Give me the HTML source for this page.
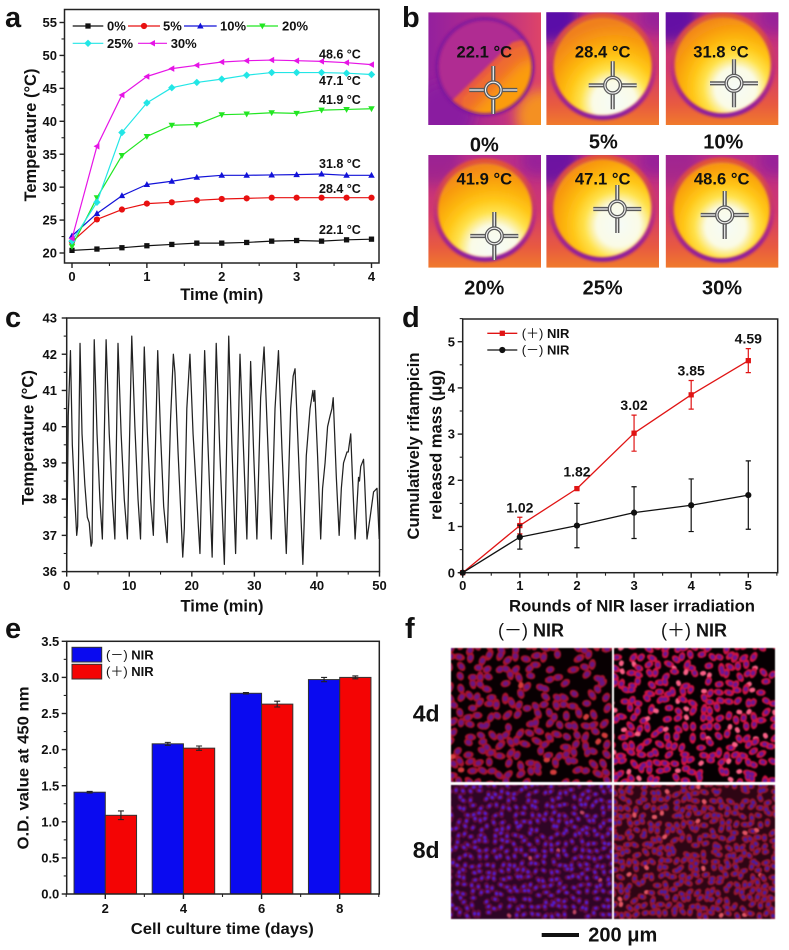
<!DOCTYPE html>
<html lang="en">
<head>
<meta charset="utf-8">
<title>Multi-panel figure</title>
<style>
html,body{margin:0;padding:0;background:#fff;}
#figure{position:relative;width:789px;height:950px;overflow:hidden;background:#fff;}
#figure svg{position:absolute;left:0;top:0;filter:blur(.35px);}
#figure canvas{position:absolute;filter:blur(.6px);}
text{font-family:"Liberation Sans","Noto Sans CJK SC",sans-serif;font-weight:bold;fill:#111;}
.thin{font-weight:normal;}
</style>
</head>
<body>
<div id="figure">
<svg id="root" width="789" height="950" viewBox="0 0 789 950" xmlns="http://www.w3.org/2000/svg">
  <defs id="defs"></defs>
  <g id="panel-a"></g>
  <g id="panel-b"></g>
  <g id="panel-c"></g>
  <g id="panel-d"></g>
  <g id="panel-e"></g>

  <text x="5" y="27" font-size="29">a</text>
  <text x="402" y="27" font-size="29">b</text>
  <text x="5" y="327" font-size="29">c</text>
  <text x="402" y="327" font-size="29">d</text>
  <text x="5" y="638" font-size="29">e</text>
  <text x="405" y="638" font-size="29">f</text>

  <!-- panel a static labels -->
  <text x="221.7" y="300" font-size="16.5" text-anchor="middle" textLength="83" lengthAdjust="spacingAndGlyphs">Time (min)</text>
  <text transform="translate(36,135) rotate(-90)" font-size="16.5" text-anchor="middle" textLength="133" lengthAdjust="spacingAndGlyphs">Temperature (°C)</text>
  <text x="319" y="58.3" font-size="12.5">48.6 °C</text>
  <text x="319" y="85" font-size="12.5">47.1 °C</text>
  <text x="319" y="104" font-size="12.5">41.9 °C</text>
  <text x="319" y="168" font-size="12.5">31.8 °C</text>
  <text x="319" y="193" font-size="12.5">28.4 °C</text>
  <text x="319" y="234" font-size="12.5">22.1 °C</text>

  <!-- panel b labels -->
  <text x="484.3" y="57.7" font-size="16.6" text-anchor="middle">22.1 °C</text>
  <text x="602.7" y="57.7" font-size="16.6" text-anchor="middle">28.4 °C</text>
  <text x="721" y="57.7" font-size="16.6" text-anchor="middle">31.8 °C</text>
  <text x="484.3" y="184.3" font-size="16.6" text-anchor="middle">41.9 °C</text>
  <text x="602.7" y="184.3" font-size="16.6" text-anchor="middle">47.1 °C</text>
  <text x="721.7" y="184.3" font-size="16.6" text-anchor="middle">48.6 °C</text>
  <text x="484.3" y="151.7" font-size="20" text-anchor="middle">0%</text>
  <text x="603.3" y="148.3" font-size="20" text-anchor="middle">5%</text>
  <text x="723.3" y="148.3" font-size="20" text-anchor="middle">10%</text>
  <text x="484.3" y="294.7" font-size="20" text-anchor="middle">20%</text>
  <text x="602.7" y="294.7" font-size="20" text-anchor="middle">25%</text>
  <text x="722" y="294.7" font-size="20" text-anchor="middle">30%</text>

  <!-- panel c labels -->
  <text x="222" y="611.6" font-size="16.5" text-anchor="middle" textLength="83" lengthAdjust="spacingAndGlyphs">Time (min)</text>
  <text transform="translate(33.5,437.5) rotate(-90)" font-size="16.5" text-anchor="middle" textLength="135" lengthAdjust="spacingAndGlyphs">Temperature (°C)</text>

  <!-- panel d labels -->
  <text x="632" y="611.6" font-size="16.5" text-anchor="middle" textLength="246" lengthAdjust="spacingAndGlyphs">Rounds of NIR laser irradiation</text>
  <text transform="translate(419,446) rotate(-90)" font-size="16.5" text-anchor="middle" textLength="187" lengthAdjust="spacingAndGlyphs">Cumulatively rifampicin</text>
  <text transform="translate(441.7,445) rotate(-90)" font-size="16.5" text-anchor="middle" textLength="150" lengthAdjust="spacingAndGlyphs">released mass (μg)</text>
  <text x="521.7" y="338" font-size="13"><tspan class="thin">(＋)</tspan> NIR</text>
  <text x="521.7" y="354.7" font-size="13"><tspan class="thin">(－)</tspan> NIR</text>

  <!-- panel e labels -->
  <text x="222.3" y="934" font-size="16" text-anchor="middle" textLength="183" lengthAdjust="spacingAndGlyphs">Cell culture time (days)</text>
  <text transform="translate(28.3,768) rotate(-90)" font-size="16" text-anchor="middle" textLength="163" lengthAdjust="spacingAndGlyphs">O.D. value at 450 nm</text>
  <text x="106" y="659.3" font-size="13"><tspan class="thin">(－)</tspan> NIR</text>
  <text x="106" y="676" font-size="13"><tspan class="thin">(＋)</tspan> NIR</text>

  <!-- panel f labels -->
  <text x="531" y="636.7" font-size="18" text-anchor="middle"><tspan class="thin">(－)</tspan> NIR</text>
  <text x="694" y="636.7" font-size="18" text-anchor="middle"><tspan class="thin">(＋)</tspan> NIR</text>
  <text x="412.7" y="721.7" font-size="23">4d</text>
  <text x="412.7" y="858" font-size="23">8d</text>
  <rect x="541.7" y="933" width="37.3" height="4" fill="#111"></rect>
  <text x="588.3" y="941.7" font-size="20">200 μm</text>
</svg>
<canvas id="cells-4d-minus" width="161" height="134" style="left:450.5px;top:648.3px"></canvas>
<canvas id="cells-4d-plus" width="161" height="134" style="left:613.7px;top:648.3px"></canvas>
<canvas id="cells-8d-minus" width="161" height="134" style="left:450.5px;top:784.5px"></canvas>
<canvas id="cells-8d-plus" width="161" height="134" style="left:613.7px;top:784.5px"></canvas>
</div>

<script>
/* ---------- panel a data ---------- */
const heatTimes = [0,0.333,0.667,1,1.333,1.667,2,2.333,2.667,3,3.333,3.667,4];
const series0  = [20.4,20.6,20.8,21.1,21.3,21.5,21.5,21.6,21.8,21.9,21.8,22.0,22.1];
const series5  = [21.7,25.1,26.6,27.5,27.7,28.0,28.2,28.3,28.4,28.4,28.4,28.4,28.4];
const series10 = [22.6,26.0,28.7,30.4,30.9,31.5,31.8,31.8,31.85,31.9,32.0,31.8,31.8];
const series20 = [21.0,28.4,34.8,37.7,39.4,39.5,41.0,41.1,41.3,41.2,41.7,41.8,41.9];
const series25 = [21.8,27.7,38.3,42.8,45.1,45.9,46.4,47.0,47.4,47.4,47.4,47.3,47.1];
const series30 = [22.2,36.2,44.0,46.8,48.0,48.5,49.0,49.2,49.3,49.2,49.1,48.9,48.6];
const seriesNames = ['0%','5%','10%','20%','25%','30%'];
const aXTicks = [0,1,2,3,4];
const aYTicks = [20,25,30,35,40,45,50,55];

/* ---------- panel c data ---------- */
const cycleTimes = [0,0.08,0.25,0.6,0.9,1.3,1.6,1.75,1.85,2.13,2.45,2.9,3.3,3.6,3.9,4.05,4.4,4.85,5.3,5.7,6.3,6.8,7.3,7.7,8.2,8.7,9.2,9.7,10.4,10.9,11.4,11.8,12.4,12.9,13.4,13.85,14.55,15.0,15.5,16.05,16.6,17.05,17.3,17.8,18.3,18.55,18.8,19.2,19.7,20.2,20.8,21.3,22.05,22.6,23.25,23.9,24.5,25.2,25.9,26.4,27.0,27.7,28.3,28.8,29.4,29.9,30.4,31.0,31.55,32.2,32.7,33.3,33.85,34.4,35.1,35.8,36.2,36.5,37.1,37.75,38.3,38.9,39.35,39.5,39.65,40.1,40.6,40.9,41.3,41.7,42.1,42.4,42.6,43.1,43.55,43.9,44.25,44.8,45.0,45.4,45.7,46.1,46.65,46.8,47.0,47.45,47.6,48.0,48.5,49.05,49.6,49.95];
const cycleTemps = [36.0,37.5,40.3,42.1,39.5,38.0,37.0,37.25,38.5,42.3,39.8,38.4,37.5,37.35,36.7,36.8,42.4,39.8,38.0,36.9,42.4,39.8,38.0,36.9,42.3,39.8,38.0,36.9,42.5,40.0,38.0,36.9,42.2,39.8,38.0,37.0,42.1,39.8,37.8,36.8,40.2,42.0,41.5,39.3,37.4,36.4,37.2,40.5,42.0,39.8,38.0,36.5,42.1,39.4,36.4,42.3,39.2,36.2,42.5,39.5,36.5,42.0,39.2,36.9,41.8,39.2,36.9,40.8,42.2,39.3,36.9,40.5,42.1,39.4,36.5,40.5,41.4,41.6,39.0,36.2,39.2,40.5,41.0,40.7,41.0,39.2,36.9,38.3,39.0,40.0,40.3,40.5,40.8,38.6,37.0,38.3,39.0,39.3,39.3,39.8,38.5,36.9,38.6,38.5,38.9,39.1,38.6,36.9,37.5,38.2,38.3,36.9];
const cXTicks = [0,10,20,30,40,50];
const cYTicks = [36,37,38,39,40,41,42,43];

/* ---------- panel d data ---------- */
const rounds = [0,1,2,3,4,5];
const plusMass = [0,1.02,1.82,3.02,3.85,4.59];
const plusErr  = [0,0.18,0.03,0.39,0.31,0.26];
const minusMass = [0,0.77,1.02,1.30,1.46,1.68];
const minusErr  = [0,0.26,0.48,0.56,0.57,0.74];
const dXTicks = [0,1,2,3,4,5];
const dYTicks = [0,1,2,3,4,5];

/* ---------- panel e data ---------- */
const days = [2,4,6,8];
const odMinus = [1.41,2.08,2.78,2.97];
const odMinusErr = [0.01,0.02,0.01,0.03];
const odPlus = [1.09,2.02,2.63,3.00];
const odPlusErr = [0.06,0.03,0.04,0.02];
const eYTicks = ['0.0','0.5','1.0','1.5','2.0','2.5','3.0','3.5'];

const NS = 'http://www.w3.org/2000/svg';
function mk(tag, parent, attrs) {
  const el = document.createElementNS(NS, tag);
  for (const k in attrs) el.setAttribute(k, attrs[k]);
  if (parent) parent.appendChild(el);
  return el;
}
function line(parent, x1, y1, x2, y2, stroke, width) {
  return mk('line', parent, {x1, y1, x2, y2, stroke, 'stroke-width': width});
}
function label(parent, x, y, str, size, anchor) {
  const t = mk('text', parent, {x, y, 'font-size': size, 'text-anchor': anchor});
  t.textContent = str;
  return t;
}
function linear(d0, d1, p0, p1) { return v => p0 + (v - d0) * (p1 - p0) / (d1 - d0); }

function drawFrame(g, prefix, L, R, T, B) {
  const r = mk('rect', g, {x: L, y: T, width: R - L, height: B - T, fill: 'none', stroke: '#222', 'stroke-width': 1.5});
  
  
}
function drawXAxis(g, prefix, scale, ticks, texts, minors, B, labelY, size) {
  ticks.forEach((v, i) => {
    const t = line(g, scale(v), B, scale(v), B + 5, '#222', 1.4);
    
    
    const l = label(g, scale(v), labelY, texts[i], size, 'middle');
    
    
  });
  minors.forEach(v => {
    const t = line(g, scale(v), B, scale(v), B + 3, '#222', 1.1);
    
    
  });
}
function drawYAxis(g, prefix, scale, ticks, texts, minors, L, labelX, size) {
  ticks.forEach((v, i) => {
    const t = line(g, L - 5, scale(v), L, scale(v), '#222', 1.4);
    
    
    const l = label(g, labelX, scale(v) + 4.6, texts[i], size, 'end');
    
    
  });
  minors.forEach(v => {
    const t = line(g, L - 3, scale(v), L, scale(v), '#222', 1.1);
    
    
  });
}
function polyline(parent, xs, ys, color, width) {
  const pts = xs.map((x, i) => x.toFixed(2) + ',' + ys[i].toFixed(2)).join(' ');
  return mk('polyline', parent, {points: pts, fill: 'none', stroke: color, 'stroke-width': width, 'stroke-linejoin': 'round'});
}
function marker(parent, kind, x, y, color, s) {
  const p = (a) => a.map(q => (x + q[0] * s) + ',' + (y + q[1] * s)).join(' ');
  if (kind === 'square') return mk('rect', parent, {x: x - s * 0.85, y: y - s * 0.85, width: s * 1.7, height: s * 1.7, fill: color});
  if (kind === 'circle') return mk('circle', parent, {cx: x, cy: y, r: s, fill: color});
  if (kind === 'up') return mk('polygon', parent, {points: p([[0,-1.1],[1.05,0.8],[-1.05,0.8]]), fill: color});
  if (kind === 'down') return mk('polygon', parent, {points: p([[0,1.1],[1.05,-0.8],[-1.05,-0.8]]), fill: color});
  if (kind === 'diamond') return mk('polygon', parent, {points: p([[0,-1.2],[1.2,0],[0,1.2],[-1.2,0]]), fill: color});
  return mk('polygon', parent, {points: p([[-1.1,0],[0.8,-1.05],[0.8,1.05]]), fill: color});
}

/* ---------- draw panel a ---------- */
(function () {
  const g = document.getElementById('panel-a');
  const L = 64.5, R = 379, T = 9.5, B = 263;
  const x = linear(0, 4, 72, 371.5), y = linear(20, 55, 253, 22.5);
  drawFrame(g, 'a', L, R, T, B);
  drawXAxis(g, 'a', x, aXTicks, aXTicks.map(String), [0.5,1.5,2.5,3.5], B, 281, 13);
  drawYAxis(g, 'a', y, aYTicks, aYTicks.map(String), [22.5,27.5,32.5,37.5,42.5,47.5,52.5], L, 57, 13);
  const data = [series0, series5, series10, series20, series25, series30];
  const colors = ['#111','#e81010','#1212d8','#22e622','#22e6e6','#e614e6'];
  const kinds = ['square','circle','up','down','diamond','left'];
  data.forEach((vals, s) => {
    const pl = polyline(g, heatTimes.map(x), vals.map(y), colors[s], 1.2);
    
    
    vals.forEach((v, i) => {
      const m = marker(g, kinds[s], x(heatTimes[i]), y(v), colors[s], 3.1);
      
      
    });
  });
  const legX0 = [72.7,128,184,246.7,72.7,138];
  const legX1 = [103.3,160,216.7,278,103.3,167];
  const legText = [107,163,220,282,107,170.7];
  const legY = [26,26,26,26,43.3,43.3];
  seriesNames.forEach((n, s) => {
    const ln = line(g, legX0[s], legY[s], legX1[s], legY[s], colors[s], 1.2);
    
    
    const m = marker(g, kinds[s], (legX0[s] + legX1[s]) / 2, legY[s], colors[s], 3.1);
    
    
    const t = label(g, legText[s], legY[s] + 4.6, n, 13, 'start');
    
    
  });
})();

/* ---------- draw panel b (thermal images) ---------- */
(function () {
  const g = document.getElementById('panel-b');
  const defs = document.getElementById('defs');
  const S = 112.7;
  const blur = mk('filter', defs, {id: 'soft', x: '-30%', y: '-30%', width: '160%', height: '160%'});
  mk('feGaussianBlur', blur, {stdDeviation: 1.2});
  const blur2 = mk('filter', defs, {id: 'softer', x: '-50%', y: '-50%', width: '200%', height: '200%'});
  mk('feGaussianBlur', blur2, {stdDeviation: 6});
  const imgs = [
    {n:'0',  x:428.3, y:12.3, cx:56.7, cy:54.5, r:48, hx:0, hy:0, hr:0, ch:[65,77.7], tl:.4},
    {n:'5',  x:546.3, y:12.3, cx:56.3, cy:54,   r:49, hx:68, hy:90, hr:80, ch:[66.4,73], tl:1},
    {n:'10', x:665.7, y:12.3, cx:57,   cy:52.7, r:48, hx:70, hy:76, hr:76, ch:[68.3,71], tl:.9},
    {n:'20', x:428.3, y:155,  cx:56.7, cy:55,   r:47, hx:66, hy:94, hr:88, ch:[66,81], tl:.3},
    {n:'25', x:546.3, y:155,  cx:56,   cy:53,   r:49, hx:72, hy:70, hr:80, ch:[71,54], tl:.8},
    {n:'30', x:665.7, y:155,  cx:56,   cy:55,   r:48, hx:60, hy:72, hr:74, ch:[59,60], tl:.25}
  ];
  const bg = mk('linearGradient', defs, {id: 'bgGrad', x1: 0, y1: 0, x2: 0, y2: 1});
  [[0,'#b82d8c'],[.5,'#d2386e'],[.82,'#e85a40'],[1,'#f07a2c']].forEach(s => mk('stop', bg, {offset: s[0], 'stop-color': s[1]}));
  const rg = mk('linearGradient', defs, {id: 'ringGrad', x1: 0, y1: 0, x2: 0, y2: 1});
  [[0,'#e25238'],[.55,'#c0307a'],[1,'#8a1aa0']].forEach(s => mk('stop', rg, {offset: s[0], 'stop-color': s[1]}));
  const stops = [[0,'#f6fbf8'],[.27,'#fafbe6'],[.42,'#ffe24c'],[.58,'#ffc412'],[.82,'#f89a10'],[1,'#f0801e']];

  imgs.forEach((m, idx) => {
    const im = mk('g', g, {transform: 'translate(' + m.x + ',' + m.y + ')'});
    
    
    const cp = mk('clipPath', defs, {id: 'clip' + idx});
    mk('rect', cp, {x: 0, y: 0, width: S, height: S});
    const c = mk('g', im, {'clip-path': 'url(#clip' + idx + ')'});
    if (m.n === '0') {
      const lg = mk('linearGradient', defs, {id: 'bg0', x1: 0, y1: 0, x2: 1, y2: 0});
      [[0,'#94209e'],[.6,'#b92e88'],[1,'#de4468']].forEach(s => mk('stop', lg, {offset: s[0], 'stop-color': s[1]}));
      mk('rect', c, {x: 0, y: 0, width: S, height: S, fill: 'url(#bg0)'});
      mk('ellipse', c, {cx: 112, cy: 104, rx: 24, ry: 26, fill: '#f49020', filter: 'url(#softer)'});
      mk('ellipse', c, {cx: 16, cy: 100, rx: 30, ry: 30, fill: '#8a1aa0', filter: 'url(#softer)'});
      const cpw = mk('clipPath', defs, {id: 'clipw0'});
      mk('circle', cpw, {cx: m.cx, cy: m.cy, r: m.r});
      const w = mk('g', c, {'clip-path': 'url(#clipw0)'});
      mk('rect', w, {x: 0, y: 0, width: S, height: S, fill: '#b02c92'});
      mk('polygon', w, {points: '20,92 84,30 125,20 125,130 20,130', fill: '#e85a40', filter: 'url(#soft)'});
      mk('polygon', w, {points: '34,86 86,36 125,25 125,130 34,130', fill: '#ee6a32', filter: 'url(#soft)'});
      mk('polygon', w, {points: '42,100 92,50 125,40 125,130 42,130', fill: '#fb9c10', filter: 'url(#softer)'});
      mk('circle', c, {cx: m.cx, cy: m.cy, r: m.r, fill: 'none', stroke: '#7c149e', 'stroke-width': 3.5, opacity: .8, filter: 'url(#soft)'});
    } else {
      mk('rect', c, {x: 0, y: 0, width: S, height: S, fill: 'url(#bgGrad)'});
      mk('ellipse', c, {cx: 4, cy: 4, rx: 28, ry: 26, fill: '#5a10a8', opacity: m.tl, filter: 'url(#softer)'});
      mk('ellipse', c, {cx: 110, cy: 6, rx: 18, ry: 16, fill: '#8a1ca0', opacity: .7, filter: 'url(#softer)'});
      mk('circle', c, {cx: m.cx, cy: m.cy, r: m.r + 2, fill: 'none', stroke: 'url(#ringGrad)', 'stroke-width': 5.5, filter: 'url(#soft)'});
      const rad = mk('radialGradient', defs, {id: 'hot' + idx, gradientUnits: 'userSpaceOnUse', cx: m.hx, cy: m.hy, r: m.hr});
      stops.forEach(s => mk('stop', rad, {offset: s[0], 'stop-color': s[1]}));
      mk('circle', c, {cx: m.cx, cy: m.cy, r: m.r, fill: 'url(#hot' + idx + ')', filter: 'url(#soft)'});
    }
    const cx = m.ch[0], cy = m.ch[1];
    const cross = mk('g', c, {});
    
    
    [[1,0],[-1,0],[0,1],[0,-1]].forEach(d => {
      line(cross, cx + d[0] * 9, cy + d[1] * 9, cx + d[0] * 24, cy + d[1] * 24, '#5a5a5a', 4.2);
      line(cross, cx + d[0] * 9, cy + d[1] * 9, cx + d[0] * 24, cy + d[1] * 24, '#f4f4f4', 1.2);
    });
    mk('circle', cross, {cx, cy, r: 7.8, fill: 'none', stroke: '#5a5a5a', 'stroke-width': 3.6});
    mk('circle', cross, {cx, cy, r: 7.8, fill: 'none', stroke: '#f4f4f4', 'stroke-width': 1.1});
  });
})();

/* ---------- draw panel c ---------- */
(function () {
  const g = document.getElementById('panel-c');
  const L = 66.7, R = 379.5, T = 318, B = 571.6;
  const x = linear(0, 50, L, R), y = linear(36, 43, B, T);
  const pl = polyline(g, cycleTimes.map(x), cycleTemps.map(y), '#222', 1.25);
  
  
  drawFrame(g, 'c', L, R, T, B);
  drawXAxis(g, 'c', x, cXTicks, cXTicks.map(String), [5,15,25,35,45], B, 590, 13);
  drawYAxis(g, 'c', y, cYTicks, cYTicks.map(String), [36.5,37.5,38.5,39.5,40.5,41.5,42.5], L, 57, 13);
})();

/* ---------- draw panel d ---------- */
(function () {
  const g = document.getElementById('panel-d');
  const L = 462.7, R = 777.7, T = 319, B = 572.7;
  const x = linear(0, 5, L, 748.3), y = linear(0, 5, B, 341.7);
  drawFrame(g, 'd', L, R, T, B);
  drawXAxis(g, 'd', x, dXTicks, dXTicks.map(String), [0.5,1.5,2.5,3.5,4.5,5.5], B, 590, 13);
  drawYAxis(g, 'd', y, dYTicks, dYTicks.map(String), [0.5,1.5,2.5,3.5,4.5,5.5], L, 455, 13);
  function series(vals, errs, color, kind, size, name) {
    const pl = polyline(g, rounds.map(x), vals.map(y), color, 1.3);
    
    
    vals.forEach((v, i) => {
      if (errs[i] > 0) {
        const X = x(rounds[i]);
        const eb = mk('path', g, {d: 'M' + (X - 2.6) + ' ' + y(v + errs[i]) + 'H' + (X + 2.6) + 'M' + X + ' ' + y(v + errs[i]) + 'V' + y(v - errs[i]) + 'M' + (X - 2.6) + ' ' + y(v - errs[i]) + 'H' + (X + 2.6), stroke: color, 'stroke-width': 1.2, fill: 'none'});
        
        
      }
      const m = marker(g, kind, x(rounds[i]), y(v), color, size);
      
      
    });
  }
  series(plusMass, plusErr, '#e01414', 'square', 3.1, 'plus-nir');
  series(minusMass, minusErr, '#111', 'circle', 3.1, 'minus-nir');
  plusMass.forEach((v, i) => {
    if (i === 0) return;
    const t = label(g, x(rounds[i]), y(v + Math.max(plusErr[i], 0.15)) - 5, v.toFixed(2), 14, 'middle');
    
    
  });
  const l1 = line(g, 487.3, 333.3, 517.3, 333.3, '#e01414', 1.3);
  
  
  const m1 = marker(g, 'square', 502.3, 333.3, '#e01414', 3.1);
  
  
  const l2 = line(g, 487.3, 350, 517.3, 350, '#111', 1.3);
  
  
  const m2 = marker(g, 'circle', 502.3, 350, '#111', 3.1);
  
  
})();

/* ---------- draw panel e ---------- */
(function () {
  const g = document.getElementById('panel-e');
  const L = 66.7, R = 379.3, T = 641.3, B = 894;
  const x = linear(2, 8, 105.3, 339.7), y = linear(0, 3.5, B, T);
  const unit = x(3) - x(2);
  const barW = unit * 0.8;
  function bars(vals, errs, offset, color, name) {
    vals.forEach((v, i) => {
      const X = x(days[i]) + offset * barW;
      const b = mk('rect', g, {x: X, y: y(v), width: barW, height: y(0) - y(v), fill: color, stroke: '#333', 'stroke-width': 1});
      
      
    });
    vals.forEach((v, i) => {
      const C = x(days[i]) + (offset + 0.5) * barW;
      const eb = mk('path', g, {d: 'M' + (C - 3) + ' ' + y(v + errs[i]) + 'H' + (C + 3) + 'M' + C + ' ' + y(v + errs[i]) + 'V' + y(v - errs[i]) + 'M' + (C - 3) + ' ' + y(v - errs[i]) + 'H' + (C + 3), stroke: '#222', 'stroke-width': 1.1, fill: 'none'});
      
      
    });
  }
  bars(odMinus, odMinusErr, -1, '#0a0af0', 'minus-nir');
  bars(odPlus, odPlusErr, 0, '#f40404', 'plus-nir');
  drawFrame(g, 'e', L, R, T, B);
  drawXAxis(g, 'e', x, days, days.map(String), [1,3,5,7,9], B, 913, 13);
  drawYAxis(g, 'e', y, eYTicks.map(Number), eYTicks, [0.25,0.75,1.25,1.75,2.25,2.75,3.25], L, 59.3, 13);
  const s1 = mk('rect', g, {x: 72, y: 647.3, width: 29.7, height: 14.7, fill: '#0a0af0', stroke: '#333', 'stroke-width': 1});
  
  
  const s2 = mk('rect', g, {x: 72, y: 664.3, width: 29.7, height: 14.7, fill: '#f40404', stroke: '#333', 'stroke-width': 1});
  
  
})();

/* ---------- micrograph textures (decorative, seeded) ---------- */
function seeded(a) {
  return function () {
    a = (a + 0x6D2B79F5) | 0;
    let t = Math.imul(a ^ (a >>> 15), 1 | a);
    t = (t + Math.imul(t ^ (t >>> 7), 61 | t)) ^ t;
    return ((t ^ (t >>> 14)) >>> 0) / 4294967296;
  };
}
function drawCells(id, o) {
  const ctx = document.getElementById(id).getContext('2d');
  const rnd = seeded(o.seed);
  ctx.fillStyle = o.bg;
  ctx.fillRect(0, 0, 161, 134);
  const list = [];
  for (let yy = 0; yy < 136; yy += o.sp) {
    for (let xx = 0; xx < 163; xx += o.sp) {
      const px = xx + (rnd() - .5) * o.sp * .7, py = yy + (rnd() - .5) * o.sp * .7;
      let skip = false;
      o.holes.forEach(h => { if (Math.hypot(px - h[0], py - h[1]) < h[2]) skip = true; });
      if (!skip && rnd() > o.drop) list.push([px, py, rnd() * Math.PI, rnd()]);
    }
  }
  list.forEach(c => {
    const bright = c[3] < o.brightP;
    ctx.fillStyle = bright ? o.bright : o.cell;
    const scale = bright ? .72 : 1;
    ctx.beginPath();
    ctx.ellipse(c[0], c[1], o.rx * scale * (.9 + c[3] * .35), o.rx * scale * .72, c[2], 0, 7);
    ctx.fill();
  });
  list.forEach(c => {
    if (c[3] < o.brightP) return;
    ctx.fillStyle = o.nuc;
    ctx.beginPath();
    ctx.ellipse(c[0], c[1], o.nr, o.nr * .85, c[2], 0, 7);
    ctx.fill();
  });
}
drawCells('cells-4d-minus', {seed: 11, bg: '#080002', sp: 9.6, rx: 5, nr: 2.8, drop: .1, brightP: .05, cell: 'rgb(168,20,44)', bright: 'rgb(210,60,60)', nuc: 'rgb(105,22,130)',
  holes: [[112,20,9],[50,42,7],[115,120,6],[80,100,7],[20,18,6],[155,10,9],[150,70,6],[70,75,4],[10,88,4]]});
drawCells('cells-4d-plus', {seed: 23, bg: '#060002', sp: 8.8, rx: 4.6, nr: 2.4, drop: .07, brightP: .1, cell: 'rgb(205,20,66)', bright: 'rgb(250,95,135)', nuc: 'rgb(105,22,150)',
  holes: [[85,38,7],[150,12,8],[80,100,5],[25,30,3],[120,50,4],[155,45,4]]});
drawCells('cells-8d-minus', {seed: 37, bg: 'rgb(46,5,38)', sp: 7.2, rx: 3.8, nr: 1.9, drop: .03, brightP: .01, cell: 'rgb(98,11,60)', bright: 'rgb(190,70,100)', nuc: 'rgb(82,28,205)',
  holes: [[130,130,6],[50,130,8]]});
drawCells('cells-8d-plus', {seed: 53, bg: 'rgb(46,5,20)', sp: 7.6, rx: 4.2, nr: 2, drop: .03, brightP: .05, cell: 'rgb(150,24,48)', bright: 'rgb(225,85,100)', nuc: 'rgb(72,28,165)',
  holes: [[70,65,4],[40,45,3],[120,12,4]]});
</script>
</body>
</html>
